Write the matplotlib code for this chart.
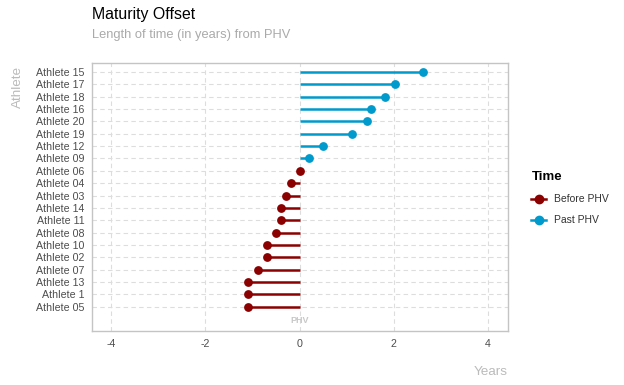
import matplotlib
matplotlib.use("Agg")
import matplotlib.pyplot as plt
from matplotlib.lines import Line2D

# data, top to bottom as shown
athletes = ["Athlete 15", "Athlete 17", "Athlete 18", "Athlete 16", "Athlete 20",
            "Athlete 19", "Athlete 12", "Athlete 09", "Athlete 06", "Athlete 04",
            "Athlete 03", "Athlete 14", "Athlete 11", "Athlete 08", "Athlete 10",
            "Athlete 02", "Athlete 07", "Athlete 13", "Athlete 1", "Athlete 05"]
offset = [2.62, 2.02, 1.81, 1.51, 1.42, 1.11, 0.50, 0.21, 0.0, -0.19,
          -0.29, -0.40, -0.40, -0.49, -0.68, -0.68, -0.89, -1.10, -1.10, -1.10]
group = ["Past PHV"] * 8 + ["Before PHV"] * 12

colors = {"Before PHV": "#8B0000", "Past PHV": "#009ACD"}

plt.rcParams['font.family'] = ['Liberation Sans', 'DejaVu Sans']
plt.rcParams['axes.unicode_minus'] = False

W, H = 624, 385
fig = plt.figure(figsize=(W / 100, H / 100), dpi=100)
ax = fig.add_axes([92 / W, (H - 331) / H, 416 / W, 268 / H])

n = len(athletes)
ypos = [n - i for i in range(n)]

ax.set_axisbelow(True)
ax.grid(True, color="#DDDDDD", linestyle=(0, (4, 3)), linewidth=0.8)

for y, v, g in zip(ypos, offset, group):
    ax.plot([0, v], [y, y], color=colors[g], linewidth=1.8, solid_capstyle="butt", zorder=2)
    ax.scatter([v], [y], s=40, color=colors[g], zorder=3, linewidths=0)

ax.text(0, -0.15, "PHV", ha="center", va="center", fontsize=6.5,
        fontweight="bold", color="#C8C8C8")

ax.set_xlim(-4.4, 4.42)
ax.set_ylim(-0.97, n + 0.73)
ax.set_xticks([-4, -2, 0, 2, 4])
ax.set_yticks(ypos)
ax.set_yticklabels(athletes)
ax.tick_params(axis="both", length=0, labelsize=7.7, labelcolor="#4D4D4D")
ax.tick_params(axis="y", pad=5.5)
ax.tick_params(axis="x", pad=6)

for s in ax.spines.values():
    s.set_color("#C4C4C4")
    s.set_linewidth(1.0)

fig.text(92 / W, 1 - 15 / H, "Maturity Offset", fontsize=11.4, color="black",
         ha="left", va="center")
fig.text(92 / W, 1 - 35 / H, "Length of time (in years) from PHV", fontsize=9.3,
         color="#AAAAAA", ha="left", va="center")
fig.text(18 / W, 1 - 66 / H, "Athlete", fontsize=9.7, color="#BBBBBB",
         rotation=90, ha="center", va="top")
fig.text(508 / W, 1 - 372 / H, "Years", fontsize=9.7, color="#BBBBBB",
         ha="right", va="center")

handles = [Line2D([0], [0], color=colors[k], marker="o", markersize=6, linewidth=1.8)
           for k in ["Before PHV", "Past PHV"]]
leg = fig.legend(handles, ["Before PHV", "Past PHV"], title="Time",
                 loc="upper left", bbox_to_anchor=(522 / W, 1 - 162 / H),
                 frameon=False, fontsize=7.5, handlelength=1.4, labelspacing=1.05,
                 alignment="left")
leg.get_title().set_fontweight("bold")
leg.get_title().set_fontsize(9.5)
for t in leg.get_texts():
    t.set_color("#333333")

fig.savefig("out.png", dpi=100)
